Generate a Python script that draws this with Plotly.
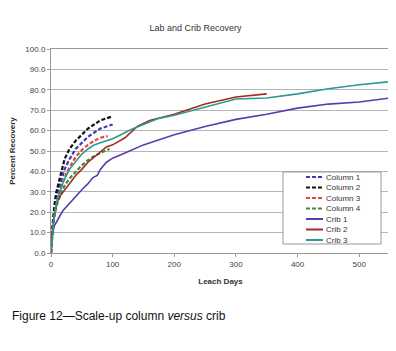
import plotly.graph_objects as go

# ---- data ----
col_days = [0, 2, 5, 8, 12, 16, 22, 30, 40, 50, 60, 70, 80, 90, 100]
column1 = [0, 10, 19, 26, 31, 35, 41, 46, 51, 54, 57, 59, 61, 62, 63]
column2 = [0, 12, 22, 29, 34, 39, 46, 51, 55, 58, 61, 63, 65, 66, 67]
col3_days = [0, 2, 5, 8, 12, 16, 22, 30, 40, 50, 60, 70, 80, 92]
column3 = [0, 9, 17, 23, 28, 32, 37, 42, 47, 50.5, 53, 55, 56.5, 57.3]
col4_days = [0, 2, 5, 8, 12, 16, 22, 30, 40, 50, 60, 70, 80, 95]
column4 = [0, 9, 17, 22, 26, 29, 33, 36.5, 40, 43, 45.5, 47.5, 49, 51]

crib1_days = [0, 2, 5, 10, 15, 20, 30, 40, 50, 60, 68, 75, 80, 90, 100, 120, 150,
              200, 250, 300, 350, 400, 450, 500, 550]
crib1 = [0, 8, 13, 16, 18.5, 21, 24.5, 28, 31, 34, 37, 38, 41, 44.5, 46.5, 49, 53,
         58, 62, 65.5, 68, 71, 73, 74, 76]
crib2_days = [0, 2, 5, 10, 15, 20, 30, 40, 50, 60, 70, 80, 90, 100, 120, 140, 160,
              200, 250, 300, 350]
crib2 = [0, 10, 18, 25, 28, 30, 34, 38, 41, 44.5, 47, 49.5, 52, 53, 56.5, 62, 65,
         68, 73, 76.5, 78]
crib3_days = [0, 2, 5, 10, 15, 20, 30, 40, 50, 60, 70, 80, 90, 100, 110, 130, 150,
              175, 200, 250, 300, 350, 400, 450, 500, 550]
crib3 = [0, 9, 18, 26, 31, 35, 41, 45, 48.5, 51, 53, 54, 55, 56, 57.5, 60.5, 63,
         66, 67.5, 71.5, 75.5, 76, 78, 80.5, 82.5, 84]

names = ["Column 1", "Column 2", "Column 3", "Column 4", "Crib 1", "Crib 2", "Crib 3"]
colors = ["#3b3bb5", "#111111", "#e8453c", "#3c8a3c", "#5a3cb0", "#a52a1e", "#2a9a92"]
x_ticks = [0, 100, 200, 300, 400, 500]

series = [
    (col_days, column1), (col_days, column2), (col3_days, column3), (col4_days, column4),
    (crib1_days, crib1), (crib2_days, crib2), (crib3_days, crib3),
]

FONT = "Arial, 'Liberation Sans', sans-serif"
DASH = "4px,2px"

# page offset (browser body margin) and plot-area geometry in screen pixels
OFF = 8
W, H = 396 - OFF, 351 - OFF
L, R, T, B = 51 - OFF, 390 - OFF, 49 - OFF, 253 - OFF
PW, PH = R - L, B - T


def px(screen_x):
    return (screen_x - OFF - L) / PW


def py(screen_y):
    return (B - (screen_y - OFF)) / PH


fig = go.Figure()
for i, ((xs, ys), name, color) in enumerate(zip(series, names, colors)):
    dashed = i < 4
    fig.add_trace(go.Scatter(
        x=xs, y=ys, mode="lines", name=name, showlegend=False,
        line=dict(color=color, width=2.2 if dashed else 1.6,
                  dash=DASH if dashed else "solid"),
    ))

# custom compact legend (Excel style)
shapes = [dict(type="rect", xref="paper", yref="paper",
               x0=px(283), x1=px(381), y0=py(244), y1=py(172),
               line=dict(color="#999", width=1), fillcolor="white", layer="above")]
annotations = []
row_y0, row_step = 177, 10.5
for i, (name, color) in enumerate(zip(names, colors)):
    yy = py(row_y0 + i * row_step)
    dashed = i < 4
    shapes.append(dict(type="line", xref="paper", yref="paper",
                       x0=px(306), x1=px(323), y0=yy, y1=yy, layer="above",
                       line=dict(color=color, width=2.2 if dashed else 2,
                                 dash=DASH if dashed else "solid")))
    annotations.append(dict(text=name, xref="paper", yref="paper",
                            x=px(324), y=yy, xanchor="left", yanchor="middle",
                            showarrow=False,
                            font=dict(family=FONT, size=8, color="#333")))

annotations.append(dict(text="Figure 12\u2014Scale-up column <i>versus</i> crib",
                        xref="paper", yref="paper", x=px(9.5), y=py(316),
                        xanchor="left", yanchor="middle", showarrow=False,
                        font=dict(family=FONT, size=12, color="#111")))

fig.update_layout(
    width=W, height=H,
    margin=dict(l=L, r=W - R, t=T, b=H - B, autoexpand=False),
    paper_bgcolor="white", plot_bgcolor="white",
    font=dict(family=FONT, size=8, color="#444"),
    title=dict(text="Lab and Crib Recovery", xref="container",
               x=(195.5 - OFF) / W, xanchor="center", yref="container",
               y=1 - (28 - OFF) / H, yanchor="middle",
               font=dict(family=FONT, size=9, color="#333")),
    showlegend=False,
    shapes=shapes,
    annotations=annotations,
)
fig.update_xaxes(
    range=[0, 550], tickvals=x_ticks, showgrid=False, zeroline=False,
    showline=True, linecolor="#999", linewidth=1, mirror=True,
    ticks="outside", ticklen=3, tickcolor="#999", automargin=False,
    tickfont=dict(size=8, color="#444"),
    title=dict(text="<b>Leach Days</b>", font=dict(size=8, color="#333"), standoff=10),
)
fig.update_yaxes(
    range=[0, 100], dtick=10, tickformat=".1f", showgrid=True, gridcolor="#b5b5b5",
    gridwidth=1, zeroline=False, showline=True, linecolor="#999", linewidth=1,
    mirror=True, ticks="outside", ticklen=3, tickcolor="#999", automargin=False,
    tickfont=dict(size=8, color="#444"),
    title=dict(text="<b>Percent Recovery</b>", font=dict(size=8, color="#333"), standoff=9),
)

fig.write_html("out.html")
